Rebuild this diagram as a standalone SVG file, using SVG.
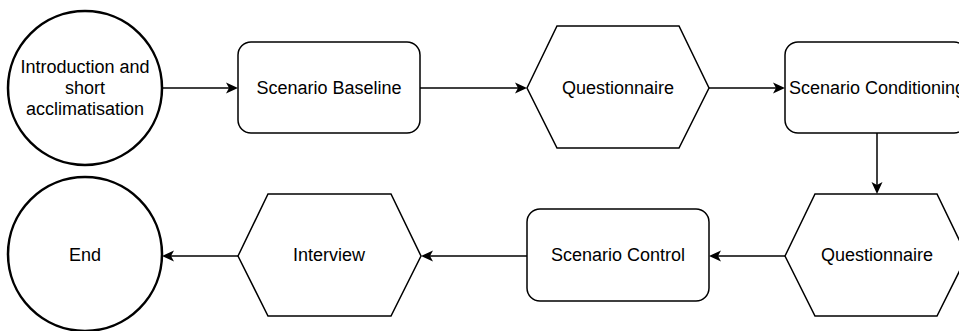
<svg xmlns="http://www.w3.org/2000/svg" width="959" height="331" viewBox="0 0 959 331">
<defs>
<style>
.sh{fill:#fff;stroke:#000;stroke-width:1.5}
.ci{fill:#fff;stroke:#000;stroke-width:2.5}
.t{font-family:"Liberation Sans",Arial,sans-serif;font-size:18px;fill:#000;text-anchor:middle}
.c{fill:none;stroke:#000;stroke-width:1.5}
</style>
<marker id="ah" viewBox="0 0 12 12" refX="8" refY="6" markerWidth="12" markerHeight="12" markerUnits="userSpaceOnUse" orient="auto">
<path d="M0,0.5 L12,6 L0,11.5 L3,6 Z" fill="#000"/>
</marker>
</defs>
<rect width="959" height="331" fill="#fff"/>
<g id="connectors">
<path class="c" d="M163,88 H234" marker-end="url(#ah)"/>
<path class="c" d="M420,88 H523" marker-end="url(#ah)"/>
<path class="c" d="M709,88 H781" marker-end="url(#ah)"/>
<path class="c" d="M877,133 V190" marker-end="url(#ah)"/>
<path class="c" d="M785,256 H713" marker-end="url(#ah)"/>
<path class="c" d="M527,256 H425" marker-end="url(#ah)"/>
<path class="c" d="M238,256 H166" marker-end="url(#ah)"/>
</g>
<g id="intro">
<circle class="ci" cx="85" cy="88" r="77"/>
<text class="t" x="85" y="73">Introduction and</text>
<text class="t" x="85" y="94">short</text>
<text class="t" x="85" y="115">acclimatisation</text>
</g>
<g id="baseline">
<rect class="sh" x="238" y="42" width="182" height="91" rx="13"/>
<text class="t" x="329" y="94">Scenario Baseline</text>
</g>
<g id="questionnaire1">
<polygon class="sh" points="527,88 557,26 679,26 709,88 679,148 557,148"/>
<text class="t" x="618" y="94">Questionnaire</text>
</g>
<g id="conditioning">
<rect class="sh" x="785" y="42" width="182" height="91" rx="13"/>
<text class="t" x="877" y="94">Scenario Conditioning</text>
</g>
<g id="questionnaire2">
<polygon class="sh" points="785,256 815,194 937,194 967,256 937,316 815,316"/>
<text class="t" x="877" y="261">Questionnaire</text>
</g>
<g id="control">
<rect class="sh" x="527" y="209" width="182" height="92" rx="13"/>
<text class="t" x="618" y="261">Scenario Control</text>
</g>
<g id="interview">
<polygon class="sh" points="238,256 268,194 391,194 421,256 391,316 268,316"/>
<text class="t" x="329" y="261">Interview</text>
</g>
<g id="end">
<circle class="ci" cx="85" cy="254" r="77"/>
<text class="t" x="85" y="261">End</text>
</g>
</svg>
